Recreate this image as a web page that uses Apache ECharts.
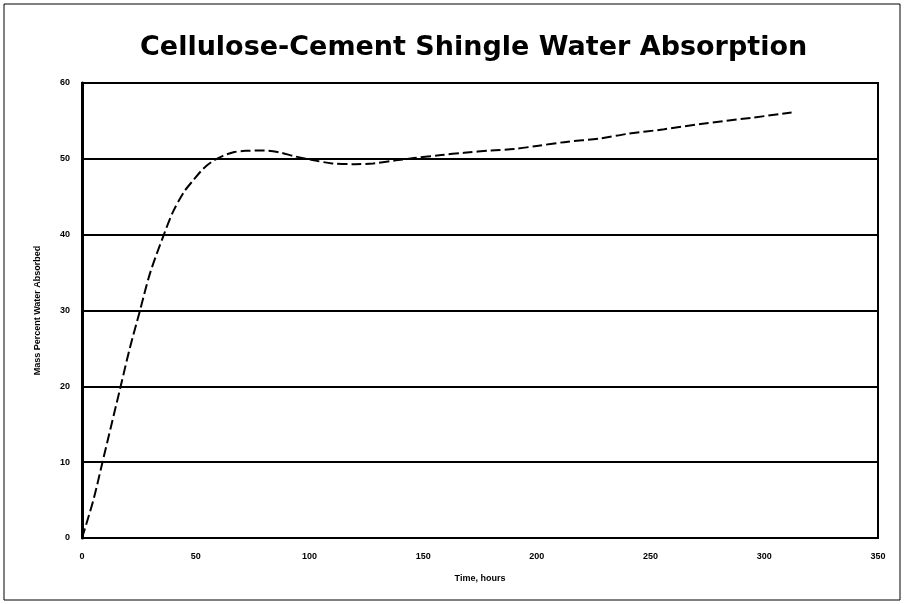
<!DOCTYPE html>
<html>
<head>
<meta charset="utf-8">
<script src="https://cdn.jsdelivr.net/npm/echarts@6/dist/echarts.min.js"></script>
<style>html,body{margin:0;padding:0;background:#fff;}#chart{width:904px;height:604px;}</style>
</head>
<body>
<div id="chart"></div>
<script>
const titleText = "Cellulose-Cement Shingle Water Absorption";
const xAxisName = "Time, hours";
const yAxisName = "Mass Percent Water Absorbed";
const timeHours = [0, 5, 9, 13, 17, 21, 25.5, 30, 36, 40, 45, 49, 53, 57, 62, 67, 72, 80, 86, 94, 102, 110, 120, 128, 138, 146, 158, 168, 180, 190, 200, 212, 228, 240, 256, 272, 294, 312];
const absorbed  = [0, 5, 10, 15, 20, 25, 30, 35, 40, 43, 45.7, 47.2, 48.6, 49.6, 50.4, 50.9, 51.05, 51.1, 50.9, 50.3, 49.8, 49.4, 49.3, 49.4, 49.8, 50.1, 50.5, 50.8, 51.1, 51.3, 51.7, 52.2, 52.7, 53.3, 53.9, 54.6, 55.4, 56.1];

const chart = echarts.init(document.getElementById('chart'), null, {renderer: 'canvas'});
chart.setOption({
  backgroundColor: '#fff',
  animation: false,
  title: {
    text: titleText, left: 135, top: 29,
    textStyle: {fontFamily: 'DejaVu Sans', fontWeight: 'bold', fontSize: 27, color: '#000'}
  },
  graphic: [{
    type: 'rect', shape: {x: 4, y: 4, width: 896, height: 596},
    style: {fill: 'none', stroke: '#000', lineWidth: 1}
  }],
  grid: {left: 82, right: 26, top: 83, bottom: 66, show: true, borderColor: '#000', borderWidth: 2, backgroundColor: '#fff'},
  xAxis: {
    type: 'value', min: 0, max: 350, interval: 50,
    name: xAxisName, nameLocation: 'middle', nameGap: 36,
    nameTextStyle: {fontFamily: 'Liberation Sans', fontWeight: 'bold', fontSize: 9, color: '#000'},
    axisLine: {lineStyle: {color: '#000', width: 2}},
    axisTick: {show: false},
    splitLine: {show: false},
    axisLabel: {fontFamily: 'Liberation Sans', fontWeight: 'bold', fontSize: 9, color: '#000', margin: 14}
  },
  yAxis: {
    type: 'value', min: 0, max: 60, interval: 10,
    name: yAxisName, nameLocation: 'middle', nameGap: 40, nameRotate: 90,
    nameTextStyle: {fontFamily: 'Liberation Sans', fontWeight: 'bold', fontSize: 9, color: '#000'},
    axisLine: {lineStyle: {color: '#000', width: 3}},
    axisTick: {show: false},
    splitLine: {show: true, lineStyle: {color: '#000', width: 2}},
    axisLabel: {fontFamily: 'Liberation Sans', fontWeight: 'bold', fontSize: 9, color: '#000', margin: 12}
  },
  series: [{
    type: 'line', data: timeHours.map((t, i) => [t, absorbed[i]]),
    smooth: 0.3, showSymbol: false,
    lineStyle: {color: '#000', width: 2, type: [10, 4]}
  }]
});
</script>
</body>
</html>
